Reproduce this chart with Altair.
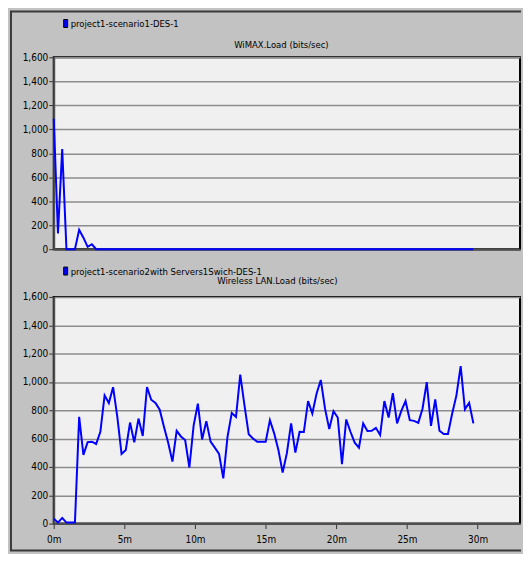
import altair as alt
import pandas as pd

# sample times (minutes), one sample every 18 s
minutes = [round(i * 0.3, 1) for i in range(100)]

wimax_load = [
    1088, 132, 834, 0, 0, 0, 162, 96, 19, 41,
    0, 0, 0, 0, 0, 0, 0, 0, 0, 0,
    0, 0, 0, 0, 0, 0, 0, 0, 0, 0,
    0, 0, 0, 0, 0, 0, 0, 0, 0, 0,
    0, 0, 0, 0, 0, 0, 0, 0, 0, 0,
    0, 0, 0, 0, 0, 0, 0, 0, 0, 0,
    0, 0, 0, 0, 0, 0, 0, 0, 0, 0,
    0, 0, 0, 0, 0, 0, 0, 0, 0, 0,
    0, 0, 0, 0, 0, 0, 0, 0, 0, 0,
    0, 0, 0, 0, 0, 0, 0, 0, 0, 0,
]

wlan_load = [
    35, 7, 40, 7, 7, 7, 753, 485, 575, 578,
    562, 648, 905, 851, 963, 753, 492, 520, 713, 573,
    741, 618, 963, 874, 851, 804, 683, 571, 438, 655,
    615, 590, 396, 692, 846, 594, 723, 578, 536, 492,
    319, 613, 781, 753, 1051, 835, 630, 601, 578, 578,
    578, 730, 637, 520, 361, 497, 707, 501, 648, 646,
    865, 777, 916, 1014, 811, 667, 793, 749, 420, 735,
    648, 571, 536, 707, 653, 655, 676, 625, 865, 749,
    921, 707, 795, 865, 730, 725, 711, 811, 998, 690,
    877, 655, 632, 632, 777, 905, 1112, 807, 853, 707,
]

legend1 = "project1-scenario1-DES-1"
title1 = "WiMAX.Load (bits/sec)"
legend2 = "project1-scenario2with Servers1Swich-DES-1"
title2 = "Wireless LAN.Load (bits/sec)"

y_ticks = [0, 200, 400, 600, 800, 1000, 1200, 1400, 1600]
x_ticks = [0, 5, 10, 15, 20, 25, 30]

FONT = "DejaVu Sans Condensed"
FS = 9.5
W = 469
H1, H2 = 193, 228
one = pd.DataFrame({"k": [0]})
EDGE = "#3a3a3a"


def panel(values, h, legend_text, title_text, bottom, leg_y, title_y, title_x):
    df = pd.DataFrame({"t": minutes, "v": values})
    if bottom:
        xaxis = alt.Axis(values=x_ticks, labelExpr="datum.value + 'm'", grid=False,
                         title=None, tickSize=5, labelPadding=6, labelFlush=False)
    else:
        xaxis = alt.Axis(labels=False, ticks=False, grid=False, title=None)
    line = alt.Chart(df).mark_line(color="#0000ff", strokeWidth=2).encode(
        x=alt.X("t:Q", scale=alt.Scale(domain=[0, 33], nice=False, zero=False), axis=xaxis),
        y=alt.Y("v:Q", scale=alt.Scale(domain=[0, 1600], nice=False),
                axis=alt.Axis(values=y_ticks, format=",d", title=None, tickSize=5,
                              labelPadding=1, labelFlush=False)),
    )
    sq = alt.Chart(one).mark_rect(fill="#0000ff", stroke="#000000", strokeWidth=1).encode(
        x=alt.value(10), x2=alt.value(14), y=alt.value(leg_y - 8), y2=alt.value(leg_y)
    )
    leg = alt.Chart(pd.DataFrame({"s": [legend_text]})).mark_text(
        align="left", baseline="alphabetic", font=FONT, fontSize=FS, color="#000000"
    ).encode(text="s:N", x=alt.value(17), y=alt.value(leg_y))
    ttl = alt.Chart(pd.DataFrame({"s": [title_text]})).mark_text(
        align="center", baseline="alphabetic", font=FONT, fontSize=FS, color="#000000"
    ).encode(text="s:N", x=alt.value(title_x), y=alt.value(title_y))
    layers = [line, sq, leg, ttl]
    if bottom:
        # invisible box fixing the outer extent of the whole figure
        box = alt.Chart(one).mark_rect(fill="#c2c2c2", fillOpacity=0, strokeWidth=0).encode(
            x=alt.value(-45), x2=alt.value(470), y=alt.value(-288), y2=alt.value(256)
        )
        left_edge = alt.Chart(one).mark_rule(color=EDGE, strokeWidth=2).encode(
            x=alt.value(-43), y=alt.value(-287), y2=alt.value(255)
        )
        top_edge = alt.Chart(one).mark_rule(color=EDGE, strokeWidth=2).encode(
            x=alt.value(-44), x2=alt.value(470), y=alt.value(-287)
        )
        bottom_edge = alt.Chart(one).mark_rule(color=EDGE, strokeWidth=2).encode(
            x=alt.value(-44), x2=alt.value(470), y=alt.value(255)
        )
        layers += [box, left_edge, top_edge, bottom_edge]
    return alt.layer(*layers).properties(width=W, height=h)


top = panel(wimax_load, H1, legend1, title1, False, -30, -9, 229)
bot = panel(wlan_load, H2, legend2, title2, True, -22, -13, 225)

chart = alt.vconcat(top, bot, spacing=48, bounds="flush").properties(
    background="#c2c2c2", padding=0
).configure_view(
    fill="#f0f0f0", stroke="#000000", strokeWidth=2
).configure_axis(
    labelFont=FONT, labelFontSize=10, labelColor="#000000", tickColor="#333333",
    domainColor="#505050", domainWidth=2, gridColor="#8c8c8c", gridWidth=1.5,
)

chart.save("out.html", embed_options={"renderer": "svg", "actions": False})
